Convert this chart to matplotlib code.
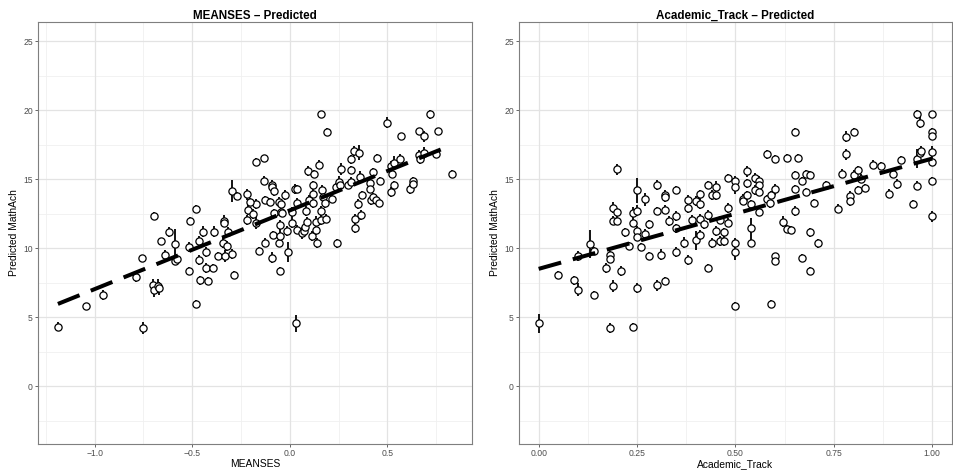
import matplotlib
matplotlib.use("Agg")
import matplotlib.pyplot as plt
import numpy as np

plt.rcParams['font.family'] = ['Liberation Sans', 'DejaVu Sans']

# ---- School-level predictions vs. MEANSES ----
meanses_x = [-1.188, -1.043, -0.958, -0.790, -0.756, -0.751, -0.700, -0.698, -0.673, -0.669,
             -0.697, -0.662, -0.642, -0.621, -0.590, -0.589, -0.577, -0.516, -0.517, -0.512,
             -0.483, -0.480, -0.466, -0.463, -0.461, -0.444, -0.430, -0.427, -0.419, -0.396,
             -0.390, -0.367, -0.343, -0.335, -0.335, -0.333, -0.324, -0.316, -0.296, -0.296,
             -0.284, -0.270, -0.219, -0.219, -0.212, -0.188, -0.174, -0.171, -0.171, -0.158,
             -0.132, -0.132, -0.128, -0.127, -0.089, -0.089, -0.082, -0.103, -0.082, -0.089,
             -0.086, -0.058, -0.055, -0.043, -0.043, -0.048, -0.048, -0.048, -0.026, -0.038,
             -0.014, -0.007, 0.013, 0.010, 0.025, 0.037, 0.039, 0.039, 0.030, 0.061,
             0.073, 0.080, 0.085, 0.088, 0.093, 0.098, 0.111, 0.122, 0.119, 0.119,
             0.119, 0.133, 0.133, 0.139, 0.157, 0.149, 0.157, 0.167, 0.170, 0.179,
             0.160, 0.192, 0.187, 0.216, 0.235, 0.242, 0.252, 0.259, 0.264, 0.300,
             0.313, 0.313, 0.313, 0.330, 0.354, 0.358, 0.351, 0.334, 0.334, 0.370,
             0.364, 0.409, 0.410, 0.424, 0.417, 0.426, 0.443, 0.457, 0.448, 0.464,
             0.496, 0.520, 0.525, 0.520, 0.535, 0.535, 0.562, 0.567, 0.617, 0.631,
             0.631, 0.660, 0.660, 0.668, 0.685, 0.689, 0.718, 0.747, 0.759, 0.830,
             -0.205]
meanses_pred = [4.32, 5.80, 6.60, 7.90, 9.27, 4.23, 7.32, 7.00, 7.27, 7.08,
                12.34, 10.49, 9.52, 11.16, 10.29, 9.06, 9.20, 10.10, 8.36, 11.98,
                5.97, 12.85, 9.15, 10.53, 7.66, 11.18, 8.55, 9.73, 7.63, 8.55,
                11.20, 9.42, 10.38, 12.00, 11.80, 9.44, 10.14, 11.20, 14.15, 9.57,
                8.07, 13.80, 13.90, 12.03, 12.80, 12.50, 13.20, 16.23, 11.86, 9.81,
                16.52, 14.90, 13.50, 10.41, 14.60, 14.40, 14.15, 13.36, 12.56, 9.30,
                10.94, 10.41, 13.38, 13.20, 12.60, 11.67, 10.89, 8.36, 13.86, 12.56,
                11.23, 9.73, 11.83, 12.60, 14.30, 14.30, 13.30, 11.35, 4.54, 11.10,
                11.23, 11.55, 12.70, 11.93, 15.60, 13.50, 10.87, 15.36, 14.59, 13.96,
                13.24, 11.90, 11.30, 10.36, 12.03, 16.06, 19.73, 14.20, 13.72, 13.24,
                12.68, 18.43, 12.15, 13.55, 14.44, 10.34, 14.80, 14.60, 15.72, 14.60,
                16.43, 15.65, 14.83, 17.05, 16.93, 15.17, 13.19, 12.10, 11.47, 13.84,
                12.40, 14.73, 14.30, 15.50, 13.50, 13.70, 13.48, 13.28, 16.52, 14.86,
                19.10, 15.99, 15.36, 14.08, 16.20, 14.57, 16.50, 18.10, 14.30, 14.86,
                14.64, 18.48, 16.79, 16.43, 16.90, 18.10, 19.70, 16.84, 18.48, 15.40,
                13.36]
meanses_se = [0.35, 0.20, 0.35, 0.35, 0.25, 0.45, 0.45, 0.55, 0.50, 0.45,
              0.25, 0.25, 0.35, 0.35, 1.10, 0.30, 0.30, 0.35, 0.30, 0.30,
              0.25, 0.25, 0.35, 0.35, 0.35, 0.40, 0.35, 0.35, 0.30, 0.30,
              0.40, 0.30, 0.40, 0.40, 0.30, 0.45, 0.35, 0.30, 0.80, 0.35,
              0.30, 0.30, 0.40, 0.35, 0.40, 0.35, 0.35, 0.30, 0.50, 0.30,
              0.25, 0.30, 0.30, 0.30, 0.35, 0.35, 0.35, 0.30, 0.30, 0.40,
              0.30, 0.35, 0.30, 0.35, 0.35, 0.35, 0.50, 0.30, 0.35, 0.30,
              0.35, 0.70, 0.40, 0.35, 0.35, 0.30, 0.35, 0.35, 0.65, 0.40,
              0.35, 0.35, 0.35, 0.35, 0.35, 0.35, 0.35, 0.30, 0.30, 0.35,
              0.35, 0.40, 0.35, 0.35, 0.35, 0.30, 0.25, 0.35, 0.35, 0.35,
              0.35, 0.25, 0.30, 0.30, 0.30, 0.30, 0.40, 0.30, 0.45, 0.30,
              0.30, 0.30, 0.30, 0.35, 0.55, 0.40, 0.35, 0.35, 0.40, 0.30,
              0.35, 0.30, 0.30, 0.30, 0.35, 0.30, 0.30, 0.30, 0.30, 0.30,
              0.40, 0.30, 0.30, 0.35, 0.50, 0.30, 0.30, 0.25, 0.35, 0.30,
              0.30, 0.25, 0.30, 0.30, 0.40, 0.40, 0.30, 0.30, 0.25, 0.25,
              0.30]

# ---- School-level predictions vs. proportion in academic track ----
track_x = [0.00, 0.05, 0.09, 0.10, 0.10, 0.13, 0.14, 0.14, 0.17, 0.18,
           0.18, 0.18, 0.19, 0.21, 0.23, 0.24, 0.25, 0.26, 0.28, 0.30,
           0.31, 0.32, 0.35, 0.37, 0.38, 0.40, 0.43, 0.44, 0.46, 0.50,
           0.50, 0.50, 0.54, 0.59, 0.60, 0.60, 0.67, 0.69, 0.71, 0.20,
           0.19, 0.20, 0.19, 0.20, 0.22, 0.24, 0.24, 0.25, 0.25, 0.25,
           0.25, 0.27, 0.27, 0.28, 0.30, 0.30, 0.32, 0.32, 0.32, 0.33,
           0.35, 0.35, 0.35, 0.38, 0.38, 0.39, 0.40, 0.41, 0.41, 0.41,
           0.41, 0.42, 0.43, 0.44, 0.45, 0.45, 0.46, 0.47, 0.47, 0.48,
           0.48, 0.48, 0.50, 0.50, 0.52, 0.52, 0.53, 0.53, 0.53, 0.54,
           0.54, 0.55, 0.56, 0.56, 0.55, 0.56, 0.56, 0.58, 0.58, 0.588,
           0.59, 0.60, 0.60, 0.62, 0.63, 0.64, 0.65, 0.65, 0.65, 0.65,
           0.63, 0.66, 0.67, 0.68, 0.69, 0.68, 0.70, 0.69, 0.73, 0.76,
           0.77, 0.78, 0.78, 0.79, 0.79, 0.80, 0.80, 0.81, 0.81, 0.82,
           0.83, 0.85, 0.87, 0.89, 0.90, 0.91, 0.92, 0.95, 0.96, 0.96,
           0.96, 0.968, 0.968, 0.97, 1.00, 1.00, 1.00, 1.00, 1.00, 1.00,
           1.00, 0.43, 0.45]
track_pred = [4.54, 8.04, 7.66, 7.00, 9.44, 10.29, 9.78, 6.62, 8.55, 9.47,
              9.25, 4.23, 7.27, 8.33, 10.14, 4.30, 7.12, 10.10, 9.44, 7.32,
              9.54, 7.63, 9.73, 10.41, 9.15, 10.56, 8.55, 10.36, 10.53, 5.80,
              10.39, 9.73, 10.41, 5.96, 9.40, 9.06, 9.30, 8.36, 10.34, 15.72,
              12.92, 12.59, 12.00, 12.00, 11.14, 12.56, 11.86, 14.20, 12.70, 11.23,
              10.80, 13.53, 11.00, 11.72, 14.60, 12.70, 13.84, 13.72, 12.80, 11.98,
              12.32, 11.43, 14.20, 13.48, 12.88, 12.03, 13.43, 13.90, 13.19, 12.15,
              10.94, 11.72, 14.60, 13.84, 14.44, 11.23, 12.03, 11.14, 10.54, 15.10,
              12.90, 11.86, 14.86, 14.40, 13.55, 13.40, 15.58, 14.69, 13.82, 13.17,
              11.47, 15.10, 14.86, 14.57, 14.20, 14.10, 12.63, 16.80, 13.55, 13.24,
              13.84, 16.49, 14.27, 11.90, 11.40, 11.30, 18.43, 15.29, 14.27, 12.70,
              16.52, 16.52, 14.86, 15.40, 15.29, 14.08, 13.28, 11.14, 14.60, 12.87,
              15.41, 18.07, 16.80, 13.79, 13.41, 18.45, 15.34, 15.65, 14.20, 15.05,
              14.35, 16.06, 15.97, 13.96, 15.41, 14.64, 16.38, 13.19, 19.70, 16.50,
              14.54, 19.08, 16.90, 17.05, 19.73, 18.45, 18.10, 16.98, 16.23, 14.88,
              12.32, 12.40, 13.84]
track_se = [0.70, 0.30, 0.30, 0.45, 0.35, 1.00, 0.30, 0.30, 0.35, 0.35,
            0.35, 0.35, 0.45, 0.35, 0.30, 0.30, 0.35, 0.30, 0.30, 0.40,
            0.40, 0.30, 0.35, 0.40, 0.35, 0.70, 0.30, 0.35, 0.35, 0.30,
            0.35, 0.60, 0.35, 0.30, 0.25, 0.25, 0.25, 0.25, 0.30, 0.40,
            0.40, 0.35, 0.35, 0.35, 0.35, 0.40, 0.35, 0.90, 0.40, 0.35,
            0.30, 0.50, 0.40, 0.30, 0.35, 0.30, 0.40, 0.35, 0.30, 0.35,
            0.35, 0.30, 0.30, 0.35, 0.35, 0.35, 0.35, 0.35, 0.35, 0.35,
            0.35, 0.35, 0.30, 0.35, 0.40, 0.35, 0.30, 0.30, 0.35, 0.30,
            0.35, 0.30, 0.35, 0.50, 0.35, 0.30, 0.40, 0.35, 0.35, 0.30,
            0.70, 0.35, 0.35, 0.35, 0.35, 0.35, 0.30, 0.35, 0.30, 0.30,
            0.30, 0.30, 0.40, 0.40, 0.30, 0.30, 0.30, 0.30, 0.30, 0.35,
            0.30, 0.30, 0.30, 0.30, 0.30, 0.30, 0.30, 0.30, 0.30, 0.30,
            0.30, 0.40, 0.40, 0.35, 0.35, 0.30, 0.30, 0.30, 0.30, 0.30,
            0.30, 0.30, 0.30, 0.30, 0.30, 0.35, 0.30, 0.30, 0.30, 0.70,
            0.30, 0.40, 0.35, 0.35, 0.25, 0.25, 0.25, 0.45, 0.30, 0.30,
            0.40, 0.35, 0.35]

# Fitted trend lines (intercept, slope)
meanses_fit = (12.74, 5.71)
track_fit = (8.50, 8.00)

titles = ["MEANSES \u2013 Predicted", "Academic_Track \u2013 Predicted"]
xlabels = ["MEANSES", "Academic_Track"]
ylabel = "Predicted MathAch"

meanses_ticks = [-1.0, -0.5, 0.0, 0.5]
meanses_ticklabels = ["\u22121.0", "\u22120.5", "0.0", "0.5"]
track_ticks = [0.0, 0.25, 0.5, 0.75, 1.0]
track_ticklabels = ["0.00", "0.25", "0.50", "0.75", "1.00"]
y_ticks = [0, 5, 10, 15, 20, 25]

fig = plt.figure(figsize=(9.54, 4.70), dpi=100)
W, H = 954, 470
ax1 = fig.add_axes([38 / W, 26 / H, 434 / W, 422 / H])
ax2 = fig.add_axes([519 / W, 26 / H, 433 / W, 422 / H])


def draw_panel(ax, x, y, se, fit, title, xlabel, xticks, xticklabels, xminor, xlim):
    x = np.asarray(x)
    y = np.asarray(y)
    se = np.asarray(se)
    ax.set_facecolor("white")
    # grid
    for v in xminor:
        ax.axvline(v, color="#f0f0f0", lw=0.6, zorder=0)
    for v in [-2.5, 2.5, 7.5, 12.5, 17.5, 22.5]:
        ax.axhline(v, color="#f0f0f0", lw=0.6, zorder=0)
    for v in xticks:
        ax.axvline(v, color="#e3e3e3", lw=0.9, zorder=0.5)
    for v in y_ticks:
        ax.axhline(v, color="#e3e3e3", lw=0.9, zorder=0.5)
    # error bars then points
    ax.vlines(x, y - se, y + se, color="black", lw=1.3, zorder=2)
    ax.plot(x, y, "o", ms=5.2, mfc="white", mec="black", mew=0.9, zorder=3, ls="none")
    # trend line over the data range
    xs = np.array([x.min(), x.max()])
    ax.plot(xs, fit[0] + fit[1] * xs, color="black", lw=2.9,
            ls=(0, (5.79, 3.0)), dash_capstyle="butt", zorder=4)
    ax.set_xlim(*xlim)
    ax.set_ylim(-4.2, 26.4)
    ax.set_xticks(xticks)
    ax.set_xticklabels(xticklabels)
    ax.set_yticks(y_ticks)
    ax.tick_params(axis="both", length=2.2, width=0.6, color="#4d4d4d",
                   labelsize=6.2, labelcolor="#4d4d4d", pad=1.5)
    for s in ax.spines.values():
        s.set_color("#7f7f7f")
        s.set_linewidth(0.8)
    ax.set_title(title, fontsize=8.4, fontweight="bold", pad=2.5)
    ax.set_xlabel(xlabel, fontsize=7.4, labelpad=0.5)
    ax.set_ylabel(ylabel, fontsize=7.4, labelpad=3)


draw_panel(ax1, meanses_x, meanses_pred, meanses_se, meanses_fit, titles[0], xlabels[0],
           meanses_ticks, meanses_ticklabels, [-1.25, -0.75, -0.25, 0.25, 0.75], (-1.29, 0.933))
draw_panel(ax2, track_x, track_pred, track_se, track_fit, titles[1], xlabels[1],
           track_ticks, track_ticklabels, [0.125, 0.375, 0.625, 0.875], (-0.05, 1.05))

fig.savefig("out.png", dpi=100, facecolor="white")
